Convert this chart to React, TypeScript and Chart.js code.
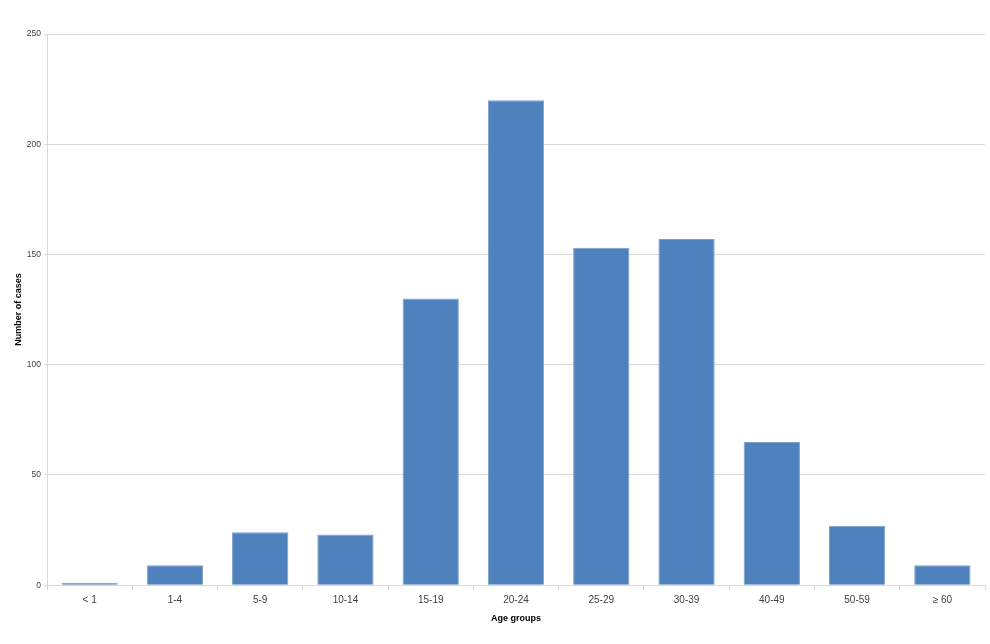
import React, { useEffect, useRef } from "react";
import { Chart, registerables } from "chart.js";

Chart.register(...registerables);

const categories = ["< 1", "1-4", "5-9", "10-14", "15-19", "20-24", "25-29", "30-39", "40-49", "50-59", "≥ 60"];
const cases = [1, 9, 24, 23, 130, 220, 153, 157, 65, 27, 9];
const yTicks = [0, 50, 100, 150, 200, 250];

export default function App() {
  const ref = useRef<HTMLCanvasElement | null>(null);
  useEffect(() => {
    document.body.style.margin = "0";
    const ctx = ref.current!.getContext("2d")!;
    const chart = new Chart(ctx, {
      type: "bar",
      data: {
        labels: categories,
        datasets: [
          {
            label: "Number of cases",
            data: cases,
            backgroundColor: "#4F81BD",
            borderColor: "#7BA0CD",
            borderWidth: 1,
            barPercentage: 1,
            categoryPercentage: 0.66,
          },
        ],
      },
      options: {
        responsive: false,
        animation: false,
        devicePixelRatio: 1,
        layout: { padding: { top: 34, right: 5, left: 0, bottom: 20 } },
        plugins: { legend: { display: false }, tooltip: { enabled: false } },
        scales: {
          x: {
            offset: true,
            grid: { display: true, drawOnChartArea: false, drawTicks: true, tickLength: 5, color: "#d9d9d9", offset: true },
            border: { color: "#d9d9d9", width: 1 },
            ticks: { color: "#404040", font: { family: "Liberation Sans", size: 10, lineHeight: "5px" }, padding: 8, maxRotation: 0, autoSkip: false },
            title: { display: true, text: "Age groups", color: "#000", font: { family: "Liberation Sans", size: 9, weight: "bold" }, padding: { top: 2, bottom: 0 } },
          },
          y: {
            min: 0,
            max: 250,
            afterBuildTicks: (s: any) => { s.ticks = yTicks.map((v) => ({ value: v })); },
            grid: { color: "#d9d9d9", drawTicks: true, tickLength: 3 },
            border: { color: "#d9d9d9", width: 1 },
            ticks: { color: "#404040", font: { family: "Liberation Sans", size: 8.5 }, padding: 3 },
            title: { display: true, text: "Number of cases", color: "#000", font: { family: "Liberation Sans", size: 9, weight: "bold" }, padding: { top: 13, bottom: 0 } },
            afterFit: (s: any) => { s.width = 47; },
          },
        },
      },
    });
    return () => chart.destroy();
  }, []);
  return (
    <div style={{ position: "absolute", left: 0, top: 0, width: 990, height: 644, background: "#fff" }}>
      <canvas ref={ref} width={990} height={644} />
    </div>
  );
}
